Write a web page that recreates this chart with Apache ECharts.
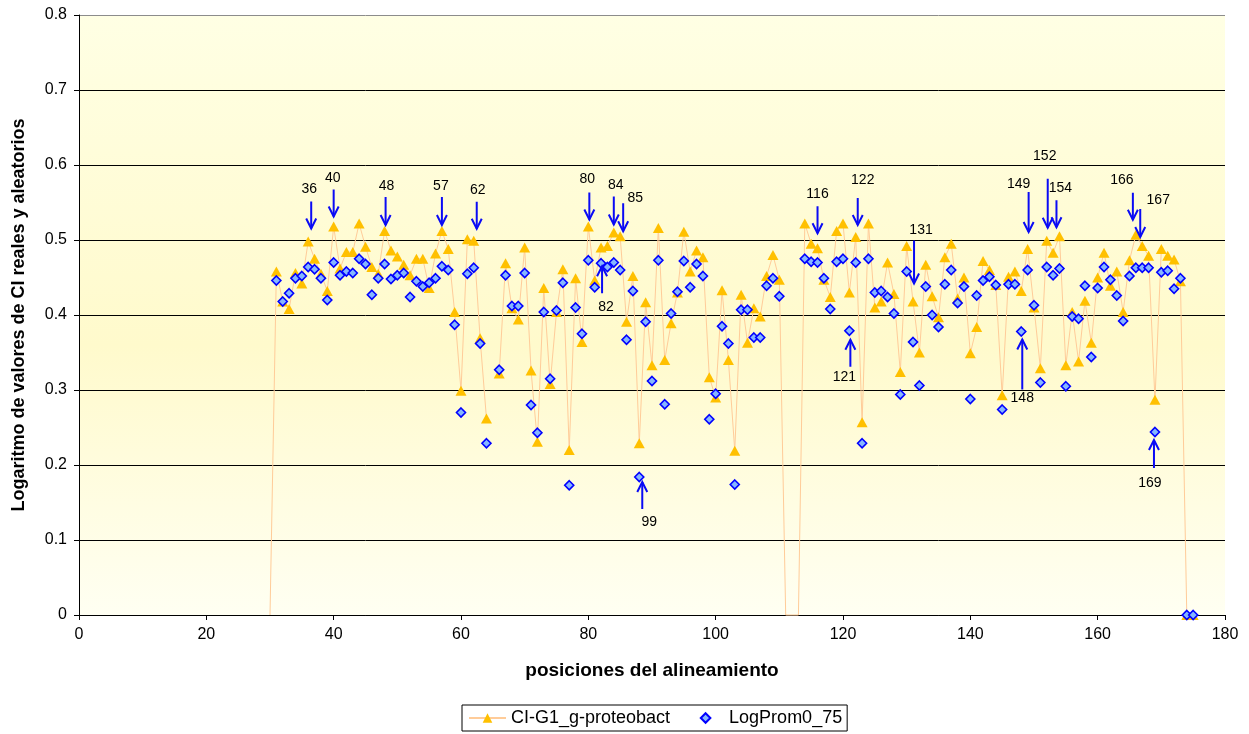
<!DOCTYPE html>
<html>
<head>
<meta charset="utf-8">
<script src="https://cdn.jsdelivr.net/npm/echarts@6/dist/echarts.min.js"></script>
<style>
  html, body { margin: 0; padding: 0; background: #ffffff; }
  #chart { width: 1249px; height: 734px; }
</style>
</head>
<body>
<div id="chart"></div>
<script>
// Alignment positions start at 30; one value per position up to 175.
const firstPosition = 30;

// CI-G1_g-proteobact (log of real CI values); '-' = no value at that position
const ciValues = [
  0,                                                            // 30
  0.458, 0.418, 0.408, 0.456, 0.442, 0.498, 0.475, 0.455, 0.432, // 31-39
  0.518, 0.462, 0.484, 0.484, 0.522, 0.491, 0.464, 0.455, 0.512, 0.486, // 40-49
  0.478, 0.467, 0.453, 0.475, 0.475, 0.436, 0.482, 0.512, 0.488, 0.404, // 50-59
  0.299, 0.501, 0.499, 0.369, 0.262, '-',   0.322, 0.469, 0.409, 0.394, // 60-69
  0.490, 0.326, 0.231, 0.436, 0.308, 0.404, 0.461, 0.220, 0.449, 0.364, // 70-79
  0.518, 0.446, 0.490, 0.492, 0.510, 0.505, 0.391, 0.452, 0.229, 0.417, // 80-89
  0.333, 0.516, 0.340, 0.389, 0.430, 0.511, 0.458, 0.486, 0.477, 0.317, // 90-99
  0.290, 0.433, 0.340, 0.219, 0.427, 0.363, 0.409, 0.398, 0.452, 0.480, // 100-109
  0.447, 0,     0,     0,     0.522, 0.495, 0.489, 0.447, 0.424, 0.512, // 110-119
  0.522, 0.430, 0.504, 0.257, 0.522, 0.410, 0.418, 0.470, 0.428, 0.324, // 120-129
  0.492, 0.418, 0.350, 0.467, 0.425, 0.397, 0.477, 0.495, 0.422, 0.450, // 130-139
  0.349, 0.384, 0.472, 0.460, 0.440, 0.293, 0.451, 0.458, 0.432, 0.488, // 140-149
  0.410, 0.329, 0.499, 0.483, 0.505, 0.333, 0.404, 0.338, 0.419, 0.363, // 150-159
  0.450, 0.483, 0.439, 0.458, 0.404, 0.473, 0.507, 0.492, 0.479, 0.287, // 160-169
  0.488, 0.479, 0.474, 0.445, 0,     0                                   // 170-175
];

// LogProm0_75 (log of mean random CI values)
const logValues = [
  '-',                                                          // 30
  0.446, 0.418, 0.429, 0.449, 0.452, 0.464, 0.461, 0.449, 0.420, // 31-39
  0.470, 0.453, 0.458, 0.456, 0.475, 0.468, 0.427, 0.449, 0.468, 0.448, // 40-49
  0.453, 0.456, 0.424, 0.445, 0.438, 0.443, 0.449, 0.465, 0.460, 0.387, // 50-59
  0.270, 0.455, 0.463, 0.362, 0.229, '-',   0.327, 0.453, 0.412, 0.412, // 60-69
  0.456, 0.280, 0.243, 0.404, 0.315, 0.406, 0.443, 0.173, 0.410, 0.375, // 70-79
  0.473, 0.437, 0.469, 0.464, 0.470, 0.460, 0.367, 0.432, 0.184, 0.391, // 80-89
  0.312, 0.473, 0.281, 0.402, 0.431, 0.472, 0.437, 0.468, 0.452, 0.261, // 90-99
  0.295, 0.385, 0.362, 0.174, 0.407, 0.407, 0.370, 0.370, 0.439, 0.449, // 100-109
  0.425, '-',   '-',   '-',   0.475, 0.471, 0.470, 0.449, 0.408, 0.471, // 110-119
  0.475, 0.379, 0.470, 0.229, 0.475, 0.430, 0.432, 0.424, 0.402, 0.294, // 120-129
  0.458, 0.364, 0.306, 0.438, 0.400, 0.384, 0.441, 0.460, 0.416, 0.438, // 130-139
  0.288, 0.426, 0.446, 0.451, 0.440, 0.274, 0.441, 0.441, 0.378, 0.460, // 140-149
  0.413, 0.310, 0.464, 0.453, 0.462, 0.305, 0.398, 0.395, 0.439, 0.344, // 150-159
  0.436, 0.464, 0.447, 0.426, 0.392, 0.452, 0.463, 0.463, 0.463, 0.244, // 160-169
  0.457, 0.459, 0.435, 0.449, 0,     0                                   // 170-175
];

// Positions whose CI value falls below the axis: the line runs to the floor, no marker.
const belowAxisPositions = [30, 111, 112, 113];

// Axis scales and titles
const xMin = 0, xMax = 180, xStep = 20;
const yMin = 0, yMax = 0.8, yStep = 0.1;
const xTitle = 'posiciones del alineamiento';
const yTitle = 'Logaritmo de valores de CI reales y aleatorios';
const ciName = 'CI-G1_g-proteobact';
const logName = 'LogProm0_75';

// Highlighted positions: label text, position on the axis, series, arrow direction
const notes = [
  { text: '36',  pos: 36,  on: 'ci',  dir: 'down', dx: 3,  gap: 13, len: 27, ldx: -2,  ldy: 12 },
  { text: '40',  pos: 40,  on: 'ci',  dir: 'down', dx: 0,  gap: 10, len: 27, ldx: -1,  ldy: 11 },
  { text: '48',  pos: 48,  on: 'ci',  dir: 'down', dx: 1,  gap: 6,  len: 28, ldx: 1,   ldy: 11 },
  { text: '57',  pos: 57,  on: 'ci',  dir: 'down', dx: 0,  gap: 6,  len: 28, ldx: -1,  ldy: 11 },
  { text: '62',  pos: 62,  on: 'ci',  dir: 'down', dx: 3,  gap: 12, len: 27, ldx: 1,   ldy: 12 },
  { text: '80',  pos: 80,  on: 'ci',  dir: 'down', dx: 1,  gap: 7,  len: 27, ldx: -2,  ldy: 13 },
  { text: '84',  pos: 84,  on: 'ci',  dir: 'down', dx: 0,  gap: 8,  len: 28, ldx: 2,   ldy: 11 },
  { text: '85',  pos: 85,  on: 'ci',  dir: 'down', dx: 3,  gap: 5,  len: 28, ldx: 12,  ldy: 5 },
  { text: '82',  pos: 82,  on: 'log', dir: 'up',   dx: 1,  gap: 3,  len: 27, ldx: 4,   ldy: 14 },
  { text: '99',  pos: 88,  on: 'log', dir: 'up',   dx: 3,  gap: 5,  len: 27, ldx: 7,   ldy: 13 },
  { text: '116', pos: 116, on: 'ci',  dir: 'down', dx: 0,  gap: 15, len: 27, ldx: 0,   ldy: 12 },
  { text: '122', pos: 122, on: 'ci',  dir: 'down', dx: 2,  gap: 12, len: 27, ldx: 5,   ldy: 18 },
  { text: '121', pos: 121, on: 'log', dir: 'up',   dx: 1,  gap: 9,  len: 27, ldx: -6,  ldy: 10 },
  { text: '131', pos: 131, on: 'ci',  dir: 'down', dx: 1,  gap: 18, len: 43, ldx: 7,   ldy: 10 },
  { text: '149', pos: 149, on: 'ci',  dir: 'down', dx: 1,  gap: 17, len: 40, ldx: -10, ldy: 8 },
  { text: '152', pos: 152, on: 'ci',  dir: 'down', dx: 1,  gap: 13, len: 49, ldx: -3,  ldy: 23 },
  { text: '154', pos: 154, on: 'ci',  dir: 'down', dx: -3, gap: 9,  len: 27, ldx: 4,   ldy: 12 },
  { text: '148', pos: 148, on: 'log', dir: 'up',   dx: 1,  gap: 8,  len: 50, ldx: 0,   ldy: 9 },
  { text: '166', pos: 166, on: 'ci',  dir: 'down', dx: -3, gap: 15, len: 27, ldx: -11, ldy: 13 },
  { text: '167', pos: 167, on: 'ci',  dir: 'down', dx: -2, gap: 9,  len: 28, ldx: 18,  ldy: 9 },
  { text: '169', pos: 169, on: 'log', dir: 'up',   dx: -1, gap: 8,  len: 28, ldx: -4,  ldy: 15 }
];

// Build [position, value] pairs for the value x axis.
const ciData = ciValues.map((v, i) => {
  const p = firstPosition + i;
  if (belowAxisPositions.includes(p)) return { value: [p, v], symbol: 'none' };
  return [p, v];
});
const logData = logValues.map((v, i) => [firstPosition + i, v]);

const chart = echarts.init(document.getElementById('chart'), null, { renderer: 'canvas' });

const font = 'Liberation Sans, Arial, sans-serif';

chart.setOption({
  animation: false,
  backgroundColor: '#ffffff',
  grid: {
    left: 79, right: 24, top: 15, bottom: 119,
    show: true,
    borderWidth: 0,
    backgroundColor: new echarts.graphic.LinearGradient(0, 0, 0, 1, [
      { offset: 0, color: '#FFFFE4' },
      { offset: 0.55, color: '#FFFACC' },
      { offset: 1, color: '#FFFFF2' }
    ])
  },
  legend: {
    left: 462, top: 705,
    orient: 'horizontal',
    itemWidth: 37, itemHeight: 12, itemGap: 17,
    padding: [4, 5, 4, 6],
    borderColor: '#000', borderWidth: 1,
    backgroundColor: '#ffffff',
    textStyle: { fontFamily: font, fontSize: 18, color: '#000' },
    data: [ciName, logName]
  },
  xAxis: {
    type: 'value',
    min: xMin, max: xMax, interval: xStep,
    name: xTitle, nameLocation: 'middle', nameGap: 46,
    nameTextStyle: { fontFamily: font, fontSize: 19, fontWeight: 'bold', color: '#000' },
    axisLine: { show: true, lineStyle: { color: '#000', width: 1 } },
    axisTick: { show: true, inside: false, length: 5, lineStyle: { color: '#000' } },
    axisLabel: { margin: 12, fontFamily: font, fontSize: 16, color: '#000' },
    splitLine: { show: false }
  },
  yAxis: {
    type: 'value',
    min: yMin, max: yMax, interval: yStep,
    name: yTitle, nameLocation: 'middle', nameGap: 51, nameRotate: 90,
    nameTextStyle: { fontFamily: font, fontSize: 18, fontWeight: 'bold', color: '#000' },
    axisLine: { show: true, lineStyle: { color: '#000', width: 1 } },
    axisTick: { show: true, inside: false, length: 5, lineStyle: { color: '#000' } },
    axisLabel: { margin: 12, fontFamily: font, fontSize: 16, color: '#000' },
    splitLine: {
      show: true,
      lineStyle: {
        color: ['#000', '#000', '#000', '#000', '#000', '#000', '#000', '#000', '#8c8c8c'],
        width: 1
      }
    }
  },
  series: [
    {
      name: ciName,
      type: 'line',
      data: ciData,
      connectNulls: false,
      clip: false,
      symbol: 'triangle',
      symbolSize: [11, 10],
      showSymbol: true,
      showAllSymbol: true,
      itemStyle: { color: '#FFC000' },
      lineStyle: { color: '#FFCC99', width: 1 },
      emphasis: { disabled: true },
      z: 2
    },
    {
      name: logName,
      type: 'line',
      data: logData,
      clip: false,
      symbol: 'diamond',
      symbolSize: 9,
      showSymbol: true,
      showAllSymbol: true,
      itemStyle: { color: '#86B6FF', borderColor: '#0000FF', borderWidth: 1.6 },
      lineStyle: { width: 0, opacity: 0 },
      emphasis: { disabled: true },
      z: 3
    }
  ]
});

// Arrows and labels for the highlighted positions, anchored to the plotted points.
function drawNotes() {
  const arrowColor = '#0A0AF5';
  const elements = [];
  notes.forEach(n => {
    const values = n.on === 'ci' ? ciValues : logValues;
    const v = values[n.pos - firstPosition];
    const pt = chart.convertToPixel({ gridIndex: 0 }, [n.pos, v]);
    const ax = pt[0] + n.dx;
    let tipY, endY, labelY, headDir;
    if (n.dir === 'down') {
      tipY = pt[1] - n.gap;
      endY = tipY - n.len;
      labelY = endY - n.ldy;
      headDir = -1;
    } else {
      tipY = pt[1] + n.gap;
      endY = tipY + n.len;
      labelY = endY + n.ldy;
      headDir = 1;
    }
    elements.push({
      type: 'line', z: 10, silent: true,
      shape: { x1: ax, y1: endY, x2: ax, y2: tipY },
      style: { stroke: arrowColor, lineWidth: 2 }
    });
    elements.push({
      type: 'polyline', z: 10, silent: true,
      shape: { points: [[ax - 5, tipY + headDir * 10], [ax, tipY], [ax + 5, tipY + headDir * 10]] },
      style: { stroke: arrowColor, lineWidth: 2, fill: null }
    });
    elements.push({
      type: 'text', z: 10, silent: true,
      x: ax + n.ldx, y: labelY,
      style: {
        text: n.text, fill: '#000',
        font: '14px ' + font,
        align: 'center', verticalAlign: 'middle'
      }
    });
  });
  chart.setOption({ graphic: elements });
}
drawNotes();
</script>
</body>
</html>
